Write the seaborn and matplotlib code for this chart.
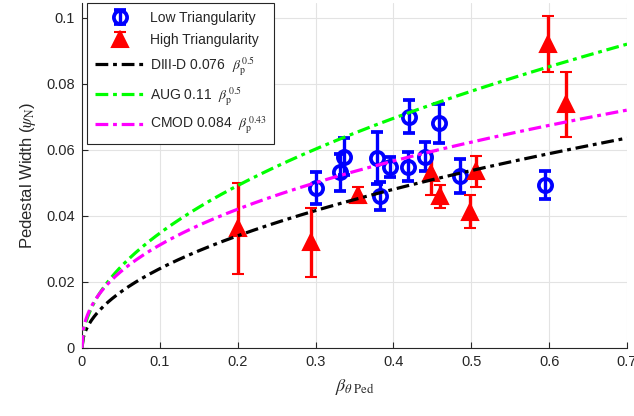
import numpy as np
import pandas as pd
import matplotlib
matplotlib.use("Agg")
import matplotlib.pyplot as plt
import seaborn as sns

# ---- data ----
low_x = [0.300, 0.331, 0.337, 0.379, 0.383, 0.396, 0.420, 0.419, 0.440, 0.458, 0.485, 0.595]
low_y = [0.0484, 0.0532, 0.0580, 0.0575, 0.0460, 0.0549, 0.0701, 0.0549, 0.0580, 0.0680, 0.0520, 0.0493]
low_err = [0.0048, 0.0055, 0.0055, 0.0078, 0.0043, 0.0030, 0.0050, 0.0044, 0.0043, 0.0058, 0.0052, 0.0043]

high_x = [0.200, 0.294, 0.354, 0.448, 0.460, 0.506, 0.498, 0.599, 0.622]
high_y = [0.0362, 0.0320, 0.0464, 0.0530, 0.0459, 0.0535, 0.0413, 0.0922, 0.0738]
high_err = [0.0138, 0.0105, 0.0025, 0.0068, 0.0035, 0.0048, 0.0050, 0.0085, 0.0098]

fit_names = ["DIII-D", "AUG", "CMOD"]
fit_coef = [0.076, 0.11, 0.084]
fit_pow = [0.5, 0.5, 0.43]
fit_colors = ["black", "#00ff00", "#ff00ff"]
fit_labels = [r"DIII-D 0.076  $\beta_{\mathrm{p}}^{\,0.5}$",
              r"AUG 0.11  $\beta_{\mathrm{p}}^{\,0.5}$",
              r"CMOD 0.084  $\beta_{\mathrm{p}}^{\,0.43}$"]

x_ticks = [0, 0.1, 0.2, 0.3, 0.4, 0.5, 0.6, 0.7]
y_ticks = [0, 0.02, 0.04, 0.06, 0.08, 0.1]
x_tick_labels = ["0", "0.1", "0.2", "0.3", "0.4", "0.5", "0.6", "0.7"]
y_tick_labels = ["0", "0.02", "0.04", "0.06", "0.08", "0.1"]

# ---- style ----
sns.set_theme(style="whitegrid")
plt.rcParams["font.family"] = ["Liberation Sans", "DejaVu Sans"]
plt.rcParams["mathtext.fontset"] = "stix"
plt.rcParams["axes.edgecolor"] = "#262626"

fig = plt.figure(figsize=(6.34, 4.16), dpi=100)
ax = fig.add_axes([0.1293, 0.1635, 0.8597, 0.8293])

h_low = ax.errorbar(low_x, low_y, yerr=low_err, fmt="o", color="#0000ff", ms=9.5, mfc="none",
                    mew=2.7, elinewidth=2.4, capsize=4, capthick=2.4, label="Low Triangularity", zorder=3)
h_high = ax.errorbar(high_x, high_y, yerr=high_err, fmt="^", color="#ff0000", ms=11.5, mfc="#ff0000",
                     mew=1.5, elinewidth=2.4, capsize=4, capthick=2.4, label="High Triangularity", zorder=3)

xs = np.linspace(0, 0.7, 400)
for name, c, p, col, lab in zip(fit_names, fit_coef, fit_pow, fit_colors, fit_labels):
    df = pd.DataFrame({"x": xs, "y": c * xs ** p})
    sns.lineplot(data=df, x="x", y="y", ax=ax, color=col, lw=2.3, label=lab,
                 linestyle=(0, (4, 1.5, 1.2, 1.5)), zorder=4)

ax.set_xlim(0, 0.7)
ax.set_ylim(0, 0.1045)
ax.set_xticks(x_ticks)
ax.set_xticklabels(x_tick_labels)
ax.set_yticks(y_ticks)
ax.set_yticklabels(y_tick_labels)
ax.tick_params(axis="both", which="both", direction="in", length=4, width=0.8,
               labelsize=10.5, colors="#262626", left=True, bottom=True, pad=5)
ax.grid(True, color="#e3e3e3", lw=0.8)
for s in ["top", "right"]:
    ax.spines[s].set_visible(False)
for s in ["left", "bottom"]:
    ax.spines[s].set_color("#262626")
    ax.spines[s].set_linewidth(0.8)

ax.set_xlabel(r"$\beta_{\theta\ \mathrm{Ped}}$", fontsize=13, color="#262626", labelpad=6)
ax.set_ylabel(r"Pedestal Width ($\psi_{\mathrm{N}}$)", fontsize=12, color="#262626", labelpad=6)

handles, labels = ax.get_legend_handles_labels()
order = [labels.index("Low Triangularity"), labels.index("High Triangularity")] + \
        [i for i, l in enumerate(labels) if "Triangularity" not in l]
leg = ax.legend([handles[i] for i in order], [labels[i] for i in order],
                loc="upper left", bbox_to_anchor=(0.009, 1.0), borderaxespad=0, fontsize=10,
                frameon=True, fancybox=False, edgecolor="#262626", framealpha=1,
                handlelength=3.6, handletextpad=0.4, borderpad=0.55, labelspacing=0.58)
leg.get_frame().set_linewidth(0.8)

fig.savefig("out.png", dpi=100)
